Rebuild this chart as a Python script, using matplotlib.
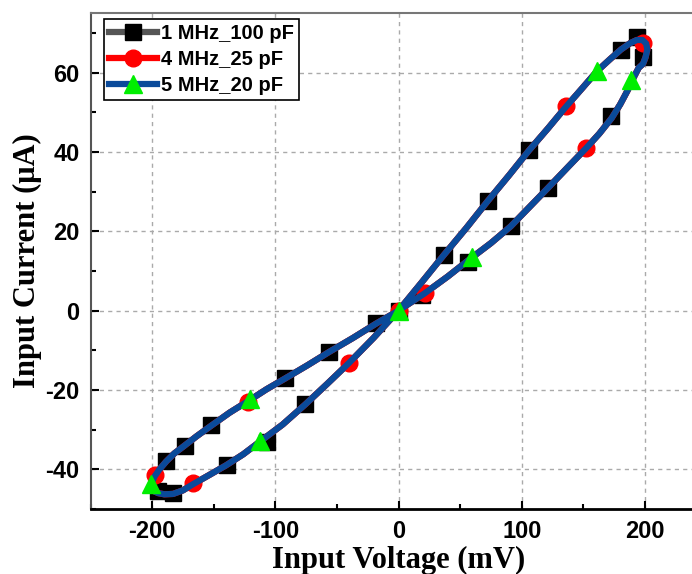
import matplotlib
matplotlib.use("Agg")
import matplotlib.pyplot as plt
from matplotlib.lines import Line2D
from matplotlib.ticker import MultipleLocator

plt.rcParams["axes.unicode_minus"] = False

# ---- data ----
# blue loop curve (Input Voltage mV, Input Current uA)
loop_v = [0, 18, 36.5, 55, 72.4, 90, 106, 121, 136, 149, 161, 171.5, 180.6, 188, 193.5, 198, 201, 202,
          200.5, 198.5, 195, 191, 186, 180, 173, 163, 152.5, 137, 121.6, 106, 91, 75, 58, 40, 21, 0,
          -18.3, -37, -56.2, -74, -92, -107, -121, -137, -152, -164, -174, -182, -188.5, -194, -198,
          -200.5, -200.5, -198.5, -195, -190, -183, -175, -166.5, -154, -140, -126, -112, -94, -75.5,
          -58, -40.2, -20, 0]
loop_i = [0, 6.8, 13.9, 20.8, 27.6, 34.2, 40.4, 45.8, 51.4, 56, 60.3, 63.3, 65.8, 67.4, 68.2, 68.2, 67.3, 65.8,
          63.8, 62.2, 61.2, 58.8, 55.5, 52, 48.5, 44.6, 41, 36, 31, 26, 21.2, 17, 13, 8.6, 4.3, 0,
          -3.3, -6.9, -10.4, -13.8, -17.1, -19.8, -22.6, -25.7, -29, -31.7, -34.1, -36, -38, -40, -41.8,
          -43.5, -44.6, -45.5, -46, -46.3, -46.2, -45.3, -43.7, -41.5, -39, -36.2, -32.9, -28.7, -23.6,
          -18.5, -13.2, -6.8, 0]

# markers of each series
sq_v = [0, 36.9, 72.4, 106.2, 180.6, 193.3, 198.2, 172.2, 121.6, 91.1, 56.5, 18.8, -18.3, -56.2, -92.1,
        -152.2, -173.5, -188.5, -195, -183, -139.5, -107, -75.5]
sq_i = [0, 13.9, 27.7, 40.5, 65.8, 68.9, 63.8, 49.1, 30.9, 21.2, 12.2, 3.9, -3.1, -10.4, -17,
        -28.9, -34, -37.9, -45.5, -46, -39, -33.2, -23.5]

ci_v = [0, 21.5, 136, 198.7, 152.2, -40.2, -122.5, -197.6, -166.5]
ci_i = [0, 4.5, 51.6, 67.4, 41.1, -13.2, -23, -41.4, -43.5]

tr_v = [0, 60, 161, 188.5, -120.5, -201, -112.4]
tr_i = [0, 13.6, 60.5, 58.2, -22.2, -43.7, -32.8]

labels = ["1 MHz_100 pF", "4 MHz_25 pF", "5 MHz_20 pF"]
x_ticks = [-200, -100, 0, 100, 200]
y_ticks = [-40, -20, 0, 20, 40, 60]

BLUE = "#0A4A9A"
GREEN = "#00EE00"

fig = plt.figure(figsize=(6.92, 5.74), dpi=100)
ax = fig.add_axes([90.5 / 692, 65 / 574, 616 / 692, 496 / 574])

LW = 4.5
ax.plot(loop_v, loop_i, color="#555555", lw=LW, zorder=2, solid_capstyle="round")
ax.plot(sq_v, sq_i, ls="none", marker="s", ms=11, color="black", zorder=2.1)
ax.plot(loop_v, loop_i, color="red", lw=LW, zorder=2.2, solid_capstyle="round")
ax.plot(ci_v, ci_i, ls="none", marker="o", ms=12, color="red", zorder=2.3)
ax.plot(loop_v, loop_i, color=BLUE, lw=LW, zorder=2.4, solid_capstyle="round")
ax.plot(tr_v, tr_i, ls="none", marker="^", ms=13, color=GREEN, zorder=2.5)

ax.set_xlim(-250, 250)
ax.set_ylim(-50, 75)
ax.set_xticks(x_ticks)
ax.set_yticks(y_ticks)
ax.xaxis.set_minor_locator(MultipleLocator(50))
ax.yaxis.set_minor_locator(MultipleLocator(10))
ax.grid(True, which="major", color="#AAAAAA", ls=(0, (3, 3)), lw=1)
ax.set_axisbelow(True)

ax.tick_params(which="major", direction="in", length=6, width=1.5, labelsize=17, pad=8)
ax.tick_params(which="minor", direction="in", length=3.5, width=1.5)
for lab in ax.get_xticklabels() + ax.get_yticklabels():
    lab.set_fontfamily("Liberation Sans")
    lab.set_fontweight("bold")

ax.spines["bottom"].set_color("black")
ax.spines["bottom"].set_linewidth(2)
ax.spines["left"].set_color("#555555")
ax.spines["left"].set_linewidth(1.5)
ax.spines["top"].set_color("#777777")
ax.spines["top"].set_linewidth(1.5)
ax.spines["right"].set_visible(False)

ax.set_xlabel("Input Voltage (mV)", fontfamily="Liberation Serif", fontweight="bold", fontsize=22, labelpad=2)
ax.set_ylabel("Input Current (\u03bcA)", fontfamily="Liberation Serif", fontweight="bold", fontsize=22, labelpad=2)

handles = [
    Line2D([], [], color="#555555", lw=4.5, marker="s", ms=11, mfc="black", mec="black"),
    Line2D([], [], color="red", lw=4.5, marker="o", ms=12, mfc="red", mec="red"),
    Line2D([], [], color=BLUE, lw=4.5, marker="^", ms=13, mfc=GREEN, mec=GREEN),
]
leg = ax.legend(handles, labels, loc="upper left", bbox_to_anchor=(13.5 / 616, 1 - 6 / 496),
                prop={"family": "Liberation Sans", "weight": "bold", "size": 14.5},
                frameon=True, fancybox=False, edgecolor="black", framealpha=1,
                handlelength=2.4, handletextpad=0.2, labelspacing=0.35, borderpad=0.25,
                borderaxespad=0)
leg.get_frame().set_linewidth(1.2)

fig.savefig("out.png", dpi=100)
